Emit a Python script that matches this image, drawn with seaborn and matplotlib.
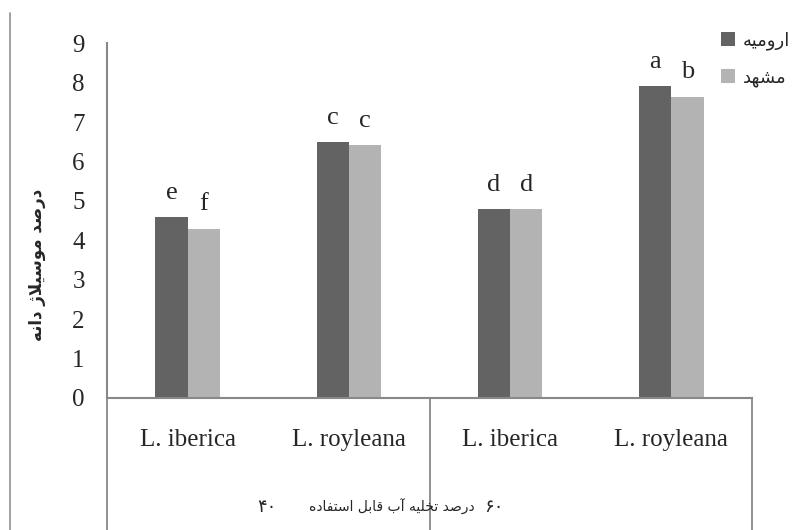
import pandas as pd
import matplotlib
matplotlib.use("Agg")
import matplotlib.pyplot as plt
from matplotlib.lines import Line2D
import seaborn as sns

# values
species = ["L. iberica", "L. royleana", "L. iberica", "L. royleana"]
drain_groups = ["۴۰", "۶۰"]
urmia = [4.6, 6.5, 4.8, 7.92]
mashhad = [4.3, 6.43, 4.8, 7.65]
letters_urmia = ["e", "c", "d", "a"]
letters_mashhad = ["f", "c", "d", "b"]
loc_names = ["ارومیه", "مشهد"]
y_title = "درصد موسیلاژ دانه"
x_title = "درصد تخلیه آب قابل استفاده"

dark = "#636363"
light = "#b3b3b3"
axis_gray = "#888888"

# matplotlib does no arabic shaping, so pick presentation forms by hand
FORMS = {
	"ا": ("\uFE8D", "\uFE8E", None, None),
	"آ": ("\uFE81", "\uFE82", None, None),
	"ب": ("\uFE8F", "\uFE90", "\uFE91", "\uFE92"),
	"ت": ("\uFE95", "\uFE96", "\uFE97", "\uFE98"),
	"خ": ("\uFEA5", "\uFEA6", "\uFEA7", "\uFEA8"),
	"د": ("\uFEA9", "\uFEAA", None, None),
	"ر": ("\uFEAD", "\uFEAE", None, None),
	"ز": ("\uFEAF", "\uFEB0", None, None),
	"ژ": ("\uFB8A", "\uFB8B", None, None),
	"س": ("\uFEB1", "\uFEB2", "\uFEB3", "\uFEB4"),
	"ش": ("\uFEB5", "\uFEB6", "\uFEB7", "\uFEB8"),
	"ص": ("\uFEB9", "\uFEBA", "\uFEBB", "\uFEBC"),
	"ف": ("\uFED1", "\uFED2", "\uFED3", "\uFED4"),
	"ق": ("\uFED5", "\uFED6", "\uFED7", "\uFED8"),
	"ل": ("\uFEDD", "\uFEDE", "\uFEDF", "\uFEE0"),
	"م": ("\uFEE1", "\uFEE2", "\uFEE3", "\uFEE4"),
	"ن": ("\uFEE5", "\uFEE6", "\uFEE7", "\uFEE8"),
	"ه": ("\uFEE9", "\uFEEA", "\uFEEB", "\uFEEC"),
	"و": ("\uFEED", "\uFEEE", None, None),
	"ی": ("\uFBFC", "\uFBFD", "\uFBFE", "\uFBFF"),
}

def dual(c):
	return c in FORMS and FORMS[c][2] is not None

def shape(text):
	out = []
	i = 0
	while i < len(text):
		c = text[i]
		if c not in FORMS:
			out.append(c)
			i += 1
			continue
		prev_join = i > 0 and dual(text[i - 1])
		if c == "ل" and i + 1 < len(text) and text[i + 1] == "ا":
			out.append("\uFEFC" if prev_join else "\uFEFB")
			i += 2
			continue
		next_join = dual(c) and i + 1 < len(text) and text[i + 1] in FORMS
		iso, fin, ini, med = FORMS[c]
		if prev_join and next_join:
			out.append(med)
		elif prev_join:
			out.append(fin)
		elif next_join:
			out.append(ini)
		else:
			out.append(iso)
		i += 1
	return "".join(out)[::-1]


sns.set_style("white")
plt.rcParams["font.family"] = ["Liberation Serif", "DejaVu Sans"]

keys = [f"{g}|{s}" for g in drain_groups for s in species[:2]]
df = pd.DataFrame({
	"key": keys * 2,
	"value": urmia + mashhad,
	"loc": [shape(loc_names[0])] * 4 + [shape(loc_names[1])] * 4,
})

fig = plt.figure(figsize=(8.02, 5.30), dpi=100)
ax = fig.add_axes([0.1334, 0.2491, 0.8043, 0.6692])

sns.barplot(data=df, x="key", y="value", hue="loc", order=keys,
	hue_order=[shape(n) for n in loc_names], palette=[dark, light],
	width=0.4, gap=0, saturation=1, edgecolor="none", linewidth=0, ax=ax)

# significance letters above the bars
for cont, letters in zip(ax.containers, [letters_urmia, letters_mashhad]):
	for bar, let in zip(cont, letters):
		ax.annotate(let, (bar.get_x() + bar.get_width() / 2, bar.get_height()),
			xytext=(0, 13), textcoords="offset points", ha="center",
			va="baseline", fontsize=19, family="Liberation Serif")

ax.set_xlim(-0.5, 3.5)
ax.set_ylim(0, 9)
ax.set_yticks(range(10))
ax.set_xticks(range(4))
ax.set_xticklabels(species)
ax.set_xlabel("")
ax.set_ylabel("")
ax.tick_params(axis="y", length=7, width=1.3, color=axis_gray, pad=9, labelsize=18)
ax.tick_params(axis="x", length=0, pad=22, labelsize=18)
for side in ["top", "right"]:
	ax.spines[side].set_visible(False)
for side in ["left", "bottom"]:
	ax.spines[side].set_color(axis_gray)
	ax.spines[side].set_linewidth(1.5)

# group separators under the axis
for xb in [-0.5, 1.5, 3.5]:
	ax.plot([xb, xb], [0, -0.38], transform=ax.get_xaxis_transform(),
		color=axis_gray, lw=1.3, clip_on=False)

# left border of the chart area
fig.add_artist(Line2D([10 / 802, 10 / 802], [0, 1 - 13 / 530],
	transform=fig.transFigure, color="#999999", lw=1.3))

handles, labels = ax.get_legend_handles_labels()
ax.legend(handles, labels, loc="upper left", bbox_to_anchor=(721 / 802, 1 - 31 / 530),
	bbox_transform=fig.transFigure, frameon=False, borderpad=0, borderaxespad=0,
	handlelength=0.78, handleheight=0.78, handletextpad=0.45, labelspacing=1.05,
	prop={"family": "DejaVu Sans", "size": 13})

fig.text(37 / 802, 1 - 265 / 530, shape(y_title), rotation=90, ha="center",
	va="center", fontsize=12, fontweight="bold", family="DejaVu Sans")
fig.text(392 / 802, 1 - 507 / 530, shape(x_title), ha="center", va="center",
	fontsize=10, family="DejaVu Sans")
fig.text(267 / 802, 1 - 507 / 530, drain_groups[0], ha="center", va="center",
	fontsize=13, family="DejaVu Sans")
fig.text(494 / 802, 1 - 507 / 530, drain_groups[1], ha="center", va="center",
	fontsize=13, family="DejaVu Sans")

fig.savefig("out.png", dpi=100)
